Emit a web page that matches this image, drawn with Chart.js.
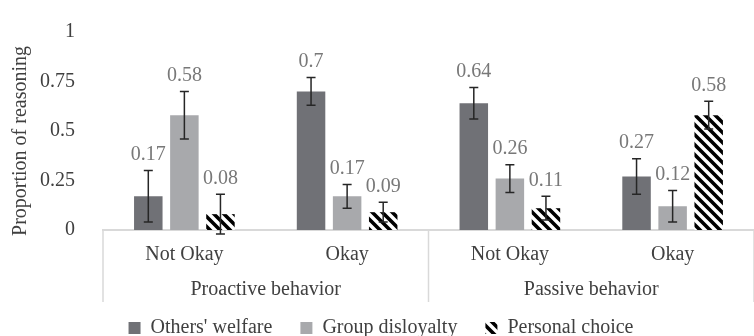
<!DOCTYPE html>
<html>
<head>
<meta charset="utf-8">
<script src="https://cdn.jsdelivr.net/npm/chart.js@4.4.1/dist/chart.umd.min.js"></script>
<style>
  html, body { margin: 0; padding: 0; background: #fff; }
</style>
</head>
<body>
<canvas id="chart" width="754" height="336"></canvas>
<script>
const categories = ["Not Okay", "Okay", "Not Okay", "Okay"];
const groups = ["Proactive behavior", "Passive behavior"];

const othersWelfare = [0.17, 0.7, 0.64, 0.27];
const othersWelfareErr = [0.13, 0.07, 0.08, 0.09];
const groupDisloyalty = [0.58, 0.17, 0.26, 0.12];
const groupDisloyaltyErr = [0.12, 0.06, 0.07, 0.08];
const personalChoice = [0.08, 0.09, 0.11, 0.58];
const personalChoiceErr = [0.10, 0.05, 0.06, 0.07];

const yTicks = [0, 0.25, 0.5, 0.75, 1];

const serif = "'Liberation Serif', 'Times New Roman', serif";
const textColor = "#404040";
const labelColor = "#787878";
const lineColor = "#d9d9d9";

// black/white diagonal stripes for the third series
function stripePattern() {
    const size = 10;
    const c = document.createElement("canvas");
    c.width = size;
    c.height = size;
    const g = c.getContext("2d");
    g.fillStyle = "#fff";
    g.fillRect(0, 0, size, size);
    g.strokeStyle = "#000";
    g.lineWidth = 3.6;
    g.beginPath();
    g.moveTo(-2, -2); g.lineTo(size + 2, size + 2);
    g.moveTo(-2, size - 2); g.lineTo(2, size + 2);
    g.moveTo(size - 2, -2); g.lineTo(size + 2, 2);
    g.stroke();
    return g.createPattern(c, "repeat");
}

const errors = [othersWelfareErr, groupDisloyaltyErr, personalChoiceErr];

// error bars and the value labels above them
const errorBars = {
    id: "errorBars",
    afterDatasetsDraw(chart) {
        const ctx = chart.ctx;
        const y = chart.scales.y;
        ctx.save();
        chart.data.datasets.forEach((ds, i) => {
            const meta = chart.getDatasetMeta(i);
            meta.data.forEach((bar, j) => {
                const v = ds.data[j];
                const e = errors[i][j];
                const top = y.getPixelForValue(v + e);
                const bottom = y.getPixelForValue(v - e);
                ctx.strokeStyle = "#262626";
                ctx.lineWidth = 1.5;
                ctx.beginPath();
                ctx.moveTo(bar.x, top); ctx.lineTo(bar.x, bottom);
                ctx.moveTo(bar.x - 4.5, top); ctx.lineTo(bar.x + 4.5, top);
                ctx.moveTo(bar.x - 4.5, bottom); ctx.lineTo(bar.x + 4.5, bottom);
                ctx.stroke();

                ctx.fillStyle = labelColor;
                ctx.font = "20px " + serif;
                ctx.textAlign = "center";
                ctx.textBaseline = "bottom";
                ctx.fillText(String(v), bar.x, top - 6);
            });
        });
        ctx.restore();
    }
};

// second row of category labels, dividers and the y title
const groupAxis = {
    id: "groupAxis",
    afterDraw(chart) {
        const ctx = chart.ctx;
        const x = chart.scales.x;
        const area = chart.chartArea;
        const split = (x.getPixelForValue(1) + x.getPixelForValue(2)) / 2;
        const bounds = [area.left, split, area.right];

        ctx.save();
        ctx.strokeStyle = lineColor;
        ctx.lineWidth = 1.5;
        ctx.beginPath();
        bounds.forEach(px => {
            ctx.moveTo(px, area.bottom);
            ctx.lineTo(px, area.bottom + 72);
        });
        ctx.stroke();

        ctx.fillStyle = textColor;
        ctx.font = "20px " + serif;
        ctx.textAlign = "center";
        ctx.textBaseline = "middle";
        groups.forEach((name, i) => {
            ctx.fillText(name, (bounds[i] + bounds[i + 1]) / 2, area.bottom + 60);
        });

        ctx.translate(21, (area.top + area.bottom) / 2 + 10);
        ctx.rotate(-Math.PI / 2);
        ctx.fillText("Proportion of reasoning", 0, 0);
        ctx.restore();
    }
};

const ctx = document.getElementById("chart");

new Chart(ctx, {
    type: "bar",
    data: {
        labels: categories,
        datasets: [
            { label: "Others' welfare", data: othersWelfare, backgroundColor: "#707176" },
            { label: "Group disloyalty", data: groupDisloyalty, backgroundColor: "#a8a9ac" },
            { label: "Personal choice", data: personalChoice, backgroundColor: stripePattern() }
        ]
    },
    options: {
        responsive: false,
        animation: false,
        devicePixelRatio: 1,
        categoryPercentage: 0.665,
        barPercentage: 0.79,
        // the plot runs slightly past the right edge, legend hangs low
        layout: { padding: { top: 0, left: 0, right: -8, bottom: -12 } },
        scales: {
            x: {
                grid: { display: false },
                border: { display: true, color: lineColor, width: 2 },
                ticks: { color: textColor, font: { family: serif, size: 20 }, padding: 5 },
                afterFit(scale) { scale.height = 60; }
            },
            y: {
                min: 0,
                max: 1,
                grid: { display: false },
                border: { display: false },
                afterBuildTicks(scale) { scale.ticks = yTicks.map(v => ({ value: v })); },
                ticks: {
                    color: textColor,
                    font: { family: serif, size: 20 },
                    padding: 20,
                    callback: v => String(v)
                },
                afterFit(scale) { scale.width = 103; }
            }
        },
        plugins: {
            legend: {
                position: "bottom",
                labels: {
                    color: textColor,
                    font: { family: serif, size: 20, lineHeight: 1 },
                    boxWidth: 12,
                    boxHeight: 12,
                    padding: 28
                }
            },
            tooltip: { enabled: false }
        }
    },
    plugins: [errorBars, groupAxis]
});
</script>
</body>
</html>
